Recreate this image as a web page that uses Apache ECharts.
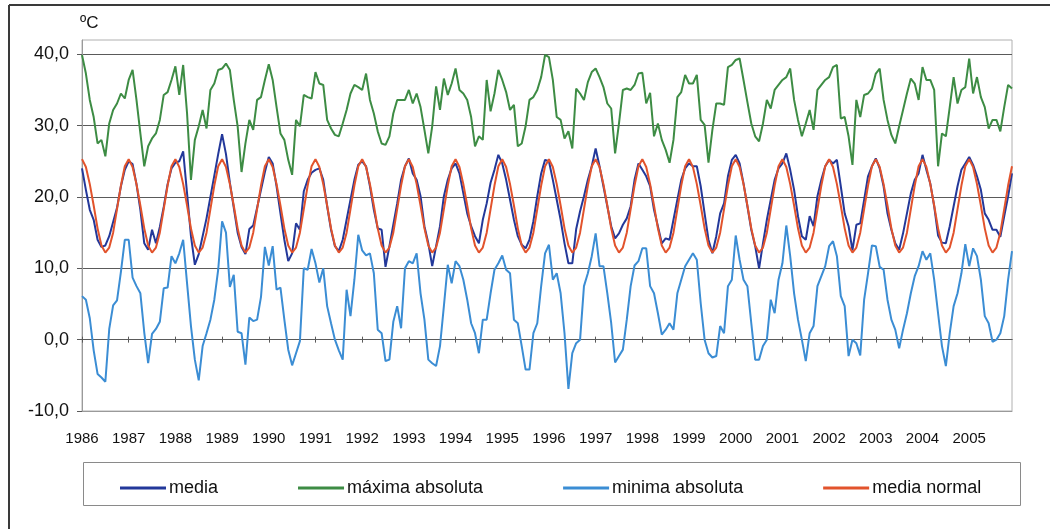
<!DOCTYPE html>
<html>
<head>
<meta charset="utf-8">
<script src="https://cdn.jsdelivr.net/npm/echarts@6/dist/echarts.min.js"></script>
<style>
  html, body { margin: 0; padding: 0; background: #ffffff; }
  #chart { width: 1050px; height: 529px; }
</style>
</head>
<body>
<div id="chart"></div>
<script>
// Year tick labels (one per 12 monthly points)
const yearLabels = ['1986','1987','1988','1989','1990','1991','1992','1993','1994','1995',
                    '1996','1997','1998','1999','2000','2001','2002','2003','2004','2005'];

// Monthly categories: 12 per year label
const categories = [];
yearLabels.forEach(function (y) {
  for (let m = 1; m <= 12; m++) categories.push(y + '-' + (m < 10 ? '0' + m : m));
});

// Temperatura media mensual (ºC)
const media = [
  24.0, 21.0, 18.2, 16.8, 14.0, 13.0, 13.2, 14.5, 16.5, 18.5, 21.5, 23.8,
  25.0, 24.6, 21.8, 18.2, 13.5, 12.6, 15.4, 13.5, 15.8, 18.6, 21.8, 24.0,
  24.8, 25.0, 26.4, 20.5, 14.5, 10.5, 12.0, 14.5, 17.0, 20.0, 23.0, 26.0,
  28.8, 26.0, 22.0, 18.5, 15.0, 13.0, 12.0, 15.5, 16.0, 18.5, 21.0, 23.5,
  25.6, 24.7, 21.5, 17.7, 14.0, 11.0, 12.1, 16.3, 15.4, 20.8, 22.4, 23.4,
  23.8, 24.0, 22.4, 18.7, 15.4, 13.1, 12.4, 14.0, 16.8, 19.6, 22.4, 24.5,
  25.0, 24.3, 21.5, 18.2, 15.6, 15.4, 10.2, 13.1, 16.1, 19.1, 22.4, 24.3,
  25.4, 23.3, 22.4, 20.1, 15.9, 13.5, 10.3, 13.1, 15.9, 20.1, 22.4, 24.0,
  24.7, 23.3, 20.5, 17.7, 15.9, 14.5, 13.5, 16.8, 19.1, 22.0, 23.8, 25.9,
  24.7, 22.4, 19.6, 16.8, 14.5, 13.3, 12.8, 14.0, 16.6, 20.1, 23.3, 25.2,
  25.0, 22.4, 19.6, 16.8, 13.5, 10.7, 10.7, 15.5, 18.0, 20.1, 22.4, 24.3,
  26.8, 24.3, 21.5, 18.7, 15.9, 14.2, 14.9, 16.1, 17.0, 18.7, 22.4, 24.7,
  23.8, 22.9, 21.5, 18.2, 15.9, 13.5, 14.2, 14.0, 16.8, 19.6, 22.4, 24.0,
  24.7, 24.3, 24.3, 21.5, 17.7, 14.0, 12.1, 14.5, 17.7, 19.1, 22.9, 25.2,
  25.9, 24.7, 21.9, 18.7, 15.4, 13.1, 10.0, 13.5, 16.8, 19.6, 22.4, 24.0,
  24.7, 26.1, 23.8, 21.0, 17.3, 14.5, 14.0, 17.3, 15.9, 20.1, 22.4, 24.3,
  25.2, 24.7, 25.2, 21.5, 17.7, 15.9, 12.5, 16.1, 16.3, 19.6, 22.9, 24.3,
  25.4, 24.0, 21.5, 17.7, 15.4, 13.5, 12.6, 14.9, 17.7, 20.5, 22.4, 23.3,
  25.9, 23.8, 21.9, 18.7, 14.6, 13.6, 13.5, 15.9, 18.7, 21.5, 23.8, 24.7,
  25.6, 24.5, 22.9, 21.0, 17.7, 16.8, 15.4, 15.4, 14.4, 17.3, 20.1, 23.3
];

// Temperatura máxima absoluta mensual (ºC)
const maximaAbsoluta = [
  39.9, 37.3, 33.6, 31.2, 27.5, 28.0, 25.7, 30.3, 32.2, 33.1, 34.5, 33.8,
  36.4, 37.8, 33.6, 28.9, 24.3, 27.1, 28.2, 28.9, 30.8, 34.3, 34.7, 36.4,
  38.3, 34.3, 38.5, 31.7, 22.4, 28.0, 29.9, 32.2, 29.6, 35.0, 35.9, 37.8,
  38.0, 38.7, 37.8, 33.6, 29.9, 23.5, 27.5, 30.8, 29.4, 33.6, 34.0, 36.4,
  38.6, 36.4, 32.6, 28.9, 28.0, 25.2, 23.1, 30.8, 29.9, 34.3, 34.0, 33.8,
  37.5, 35.9, 35.7, 30.8, 29.6, 28.7, 28.5, 30.3, 32.2, 34.5, 35.7, 35.4,
  35.0, 37.3, 33.6, 31.7, 29.2, 27.5, 27.3, 28.5, 31.7, 33.6, 33.6, 33.6,
  35.0, 33.1, 34.5, 32.6, 29.4, 26.1, 29.9, 35.5, 32.2, 36.6, 34.3, 35.9,
  38.0, 35.0, 34.5, 33.6, 31.2, 27.1, 28.5, 28.0, 36.4, 32.0, 34.5, 37.8,
  36.4, 34.7, 32.2, 32.9, 27.1, 27.5, 29.9, 33.6, 34.0, 35.0, 36.8, 39.9,
  39.6, 36.4, 31.2, 30.8, 28.2, 29.2, 26.8, 35.2, 34.5, 33.6, 36.1, 37.5,
  38.0, 36.8, 35.4, 33.1, 32.4, 26.1, 30.3, 35.0, 35.2, 35.0, 35.7, 37.3,
  37.4, 33.1, 34.6, 28.5, 30.3, 28.0, 26.6, 24.8, 28.0, 34.0, 34.7, 37.1,
  35.9, 35.9, 37.1, 30.8, 30.1, 24.8, 29.4, 33.1, 33.1, 32.9, 38.2, 38.5,
  39.2, 39.4, 36.4, 33.3, 30.3, 28.5, 27.8, 30.3, 33.6, 32.4, 35.0, 35.7,
  36.4, 36.8, 38.0, 33.6, 30.8, 28.5, 30.3, 32.2, 29.4, 35.0, 35.7, 36.4,
  36.8, 38.2, 38.5, 31.0, 31.2, 28.5, 24.5, 33.6, 31.2, 34.3, 34.5, 35.2,
  37.3, 38.0, 33.6, 30.8, 28.7, 27.5, 29.9, 32.2, 34.5, 36.6, 35.9, 33.6,
  38.2, 36.4, 36.4, 35.0, 24.3, 28.9, 28.5, 32.6, 36.8, 33.1, 35.0, 35.4,
  39.4, 34.5, 36.8, 34.0, 32.6, 29.6, 30.8, 30.8, 29.2, 32.6, 35.7, 35.2
];

// Temperatura mínima absoluta mensual (ºC)
const minimaAbsoluta = [
   6.1,  5.6,  3.0, -1.5, -4.8, -5.3, -5.9,  1.5,  4.8,  5.5,  9.5, 14.0,
  14.0,  8.7,  7.5,  6.5,  1.0, -3.3,  0.8,  1.5,  2.5,  7.2,  7.3, 11.7,
  10.7, 12.1, 14.0,  7.9,  1.9, -2.8, -5.7, -0.9,  0.9,  2.8,  5.6,  9.8,
  16.6, 15.0,  7.4,  9.1,  1.1,  0.9, -3.5,  3.1,  2.6,  2.8,  6.0, 13.0,
  10.4, 13.1,  7.0,  7.3,  2.8, -1.4, -3.6, -1.9, -0.2, 10.0,  9.8, 12.7,
  10.7,  8.0, 10.0,  4.7,  2.3,  0.0, -1.5, -2.8,  7.0,  3.3,  8.4, 14.7,
  12.5, 11.8, 12.1,  9.3,  1.4,  0.9, -3.0, -2.8,  2.5,  4.7,  1.6, 10.0,
  11.0, 10.7, 12.1,  6.5,  2.8, -2.8, -3.3, -3.7, -0.9,  4.7, 10.5,  7.9,
  11.0, 10.3,  8.4,  5.6,  2.3,  0.9, -1.9,  2.8,  2.8,  6.5,  9.8, 10.7,
  11.8,  9.8,  9.3,  2.8,  2.3, -0.9, -4.2, -4.2,  0.9,  2.3,  7.5, 12.1,
  13.3,  8.4,  9.3,  6.5,  0.9, -6.9, -1.9, -0.5,  0.0,  7.5,  9.3, 11.7,
  14.9, 10.3, 10.3,  6.5,  2.3, -3.2, -2.3, -1.4,  2.8,  7.5, 10.4, 11.0,
  12.8, 12.8,  7.5,  6.5,  3.7,  0.7,  1.4,  2.3,  1.4,  6.5,  8.4, 10.3,
  11.2, 12.1, 11.2,  5.1,  0.0, -1.9, -2.5, -2.3,  1.9,  0.9,  7.5,  8.4,
  14.6, 11.2,  8.4,  7.5,  2.3, -2.8, -2.8, -0.9,  0.0,  5.6,  3.7,  8.4,
  10.7, 16.0, 11.7,  6.5,  2.8,  0.0, -3.0,  0.9,  1.9,  7.5,  8.9, 10.3,
  13.1, 13.8, 11.7,  6.1,  4.7, -2.3,  0.0, -0.5, -2.2,  5.6,  9.3, 13.2,
  13.1, 10.2,  9.8,  5.6,  2.8,  1.4, -1.2,  1.4,  3.7,  6.5,  8.9, 10.3,
  12.4, 11.2, 12.1,  8.4,  3.7, -0.9, -3.7,  0.9,  4.7,  6.5,  9.3, 13.4,
  10.3, 12.8, 11.7,  8.4,  3.3,  2.3, -0.3,  0.0,  0.9,  3.3,  8.4, 12.4
];

// Media normal: climatological value for each position in the 12-month cycle
const mediaNormalMensual = [25.3, 24.2, 21.8, 18.8, 15.6, 13.2, 12.2, 12.9, 15.0, 18.3, 21.6, 24.3];
const mediaNormal = categories.map(function (c, i) { return mediaNormalMensual[i % 12]; });

const yTicks = [-10, 0, 10, 20, 30, 40];

const FONT = '"Liberation Sans", Arial, sans-serif';
const GRID_LINE = '#5a5a5a';

function isYearStart(idx) { return idx % 12 === 0; }

const chart = echarts.init(document.getElementById('chart'), null, { renderer: 'canvas' });

chart.setOption({
  animation: false,
  backgroundColor: '#ffffff',
  textStyle: { fontFamily: FONT },
  grid: {
    left: 82, right: 38, top: 40, bottom: 118,
    show: true, borderColor: '#b0b0b0', borderWidth: 1, backgroundColor: '#ffffff'
  },
  legend: {
    data: ['media', 'máxima absoluta', 'minima absoluta', 'media normal'],
    left: 115, top: 474,
    icon: 'rect', itemWidth: 46, itemHeight: 3, itemGap: 80,
    textStyle: { fontSize: 18, color: '#111', fontFamily: FONT, padding: [0, 0, 0, -2] },
    selectedMode: false
  },
  graphic: [
    // outer frame (top and left edges)
    { type: 'line', shape: { x1: 9, y1: 5, x2: 1050, y2: 5 }, style: { stroke: '#3a3a3a', lineWidth: 2 }, silent: true },
    { type: 'line', shape: { x1: 9, y1: 5, x2: 9, y2: 529 }, style: { stroke: '#3a3a3a', lineWidth: 2 }, silent: true },
    // legend frame
    { type: 'rect', shape: { x: 83.5, y: 462.5, width: 937, height: 43 }, style: { fill: 'none', stroke: '#8a8a8a', lineWidth: 1 }, silent: true, z: -1 }
  ],
  xAxis: [
    {
      type: 'category', data: categories, boundaryGap: false, position: 'bottom',
      axisLine: { onZero: false, lineStyle: { color: '#9a9a9a', width: 1 } },
      axisTick: { show: false },
      splitLine: { show: false },
      axisLabel: {
        interval: function (idx) { return isYearStart(idx); },
        formatter: function (v) { return v.slice(0, 4); },
        fontSize: 15, color: '#111', margin: 20, fontFamily: FONT,
        hideOverlap: false
      }
    },
    {
      type: 'category', data: categories, boundaryGap: false, position: 'top',
      axisLine: { show: true, onZero: true, onZeroAxisIndex: 0, lineStyle: { color: GRID_LINE, width: 1 } },
      axisTick: { show: true, interval: function (idx) { return isYearStart(idx); }, length: 3, lineStyle: { color: GRID_LINE } },
      axisLabel: { show: false },
      splitLine: { show: false }
    },
    {
      type: 'category', data: categories, boundaryGap: false, position: 'bottom',
      axisLine: { show: true, onZero: true, onZeroAxisIndex: 0, lineStyle: { color: GRID_LINE, width: 1 } },
      axisTick: { show: true, interval: function (idx) { return isYearStart(idx); }, length: 3, lineStyle: { color: GRID_LINE } },
      axisLabel: { show: false },
      splitLine: { show: false }
    }
  ],
  yAxis: {
    type: 'value', min: -10, max: 42, interval: 10,
    name: 'ºC', nameLocation: 'end', nameGap: 8,
    nameTextStyle: { fontSize: 17, color: '#111', align: 'left', fontFamily: FONT, padding: [0, 0, 0, -2] },
    axisLine: { show: true, lineStyle: { color: '#9a9a9a' } },
    axisTick: { show: true, length: 5, lineStyle: { color: GRID_LINE }, customValues: yTicks },
    axisLabel: {
      customValues: yTicks,
      formatter: function (v) { return v.toFixed(1).replace('.', ','); },
      fontSize: 18, color: '#111', margin: 13, fontFamily: FONT
    },
    splitLine: { show: true, lineStyle: { color: GRID_LINE, width: 1 } }
  },
  series: [
    { name: 'minima absoluta', type: 'line', data: minimaAbsoluta, symbol: 'none', xAxisIndex: 0,
      lineStyle: { color: '#3b8dd4', width: 2 }, itemStyle: { color: '#3b8dd4' } },
    { name: 'máxima absoluta', type: 'line', data: maximaAbsoluta, symbol: 'none', xAxisIndex: 0,
      lineStyle: { color: '#3d8c44', width: 2 }, itemStyle: { color: '#3d8c44' } },
    { name: 'media', type: 'line', data: media, symbol: 'none', xAxisIndex: 0,
      lineStyle: { color: '#23389a', width: 2 }, itemStyle: { color: '#23389a' } },
    { name: 'media normal', type: 'line', data: mediaNormal, symbol: 'none', xAxisIndex: 0,
      lineStyle: { color: '#e2532c', width: 2 }, itemStyle: { color: '#e2532c' } }
  ]
});
</script>
</body>
</html>
